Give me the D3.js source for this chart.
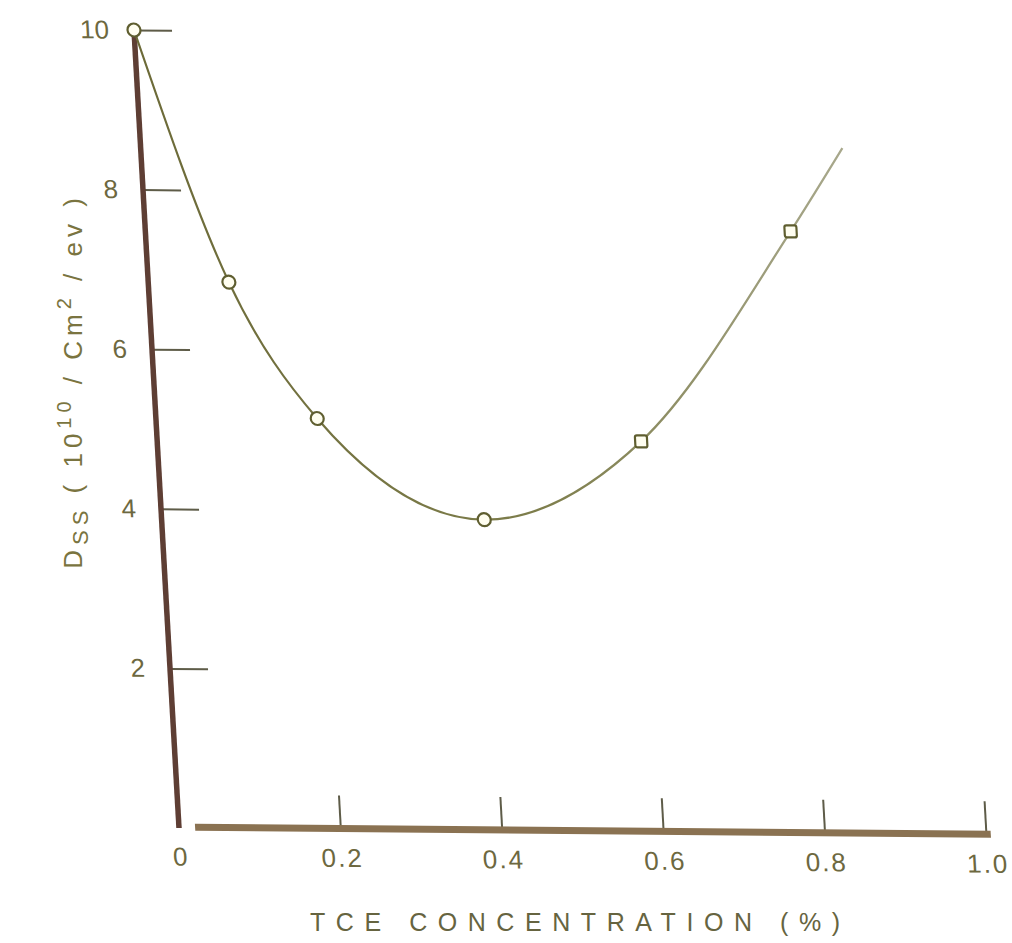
<!DOCTYPE html>
<html>
<head>
<meta charset="utf-8">
<script src="https://cdn.jsdelivr.net/npm/d3@7/dist/d3.min.js"></script>
<style>
  html, body { margin: 0; padding: 0; background: #ffffff; }
  svg { display: block; }
</style>
</head>
<body>
<script>
// Surface state density vs. TCE concentration
const concentration = [0, 0.1, 0.2, 0.4, 0.6, 0.8];
const dss = [10, 6.85, 5.15, 3.9, 4.9, 7.55];
const markerShape = ["circle", "circle", "circle", "circle", "square", "square"];
// smooth fit through the measurements, running a little past the last one
const fitConc = [0, 0.1, 0.2, 0.4, 0.6, 0.8, 0.87];
const fitDss = [10, 6.85, 5.15, 3.9, 4.9, 7.55, 8.6];
const xTicks = [0, 0.2, 0.4, 0.6, 0.8, 1.0];
const yTicks = [2, 4, 6, 8, 10];

const W = 1012, H = 943;
const svg = d3.select("body").append("svg").attr("width", W).attr("height", H);

const x = d3.scaleLinear().domain([0, 1]).range([0, 807]);
const y = d3.scaleLinear().domain([0, 10]).range([0, -798]);

// the printed frame is slightly sheared: vertical axis leans left, baseline drops to the right
const plot = svg.append("g").attr("transform", "matrix(1,0.009,0.0564,1,179,828)");

const grad = svg.append("defs").append("linearGradient")
  .attr("id", "fitStroke").attr("gradientUnits", "userSpaceOnUse")
  .attr("x1", x(0)).attr("x2", x(0.87)).attr("y1", 0).attr("y2", 0);
grad.append("stop").attr("offset", "0%").attr("stop-color", "#6c6a38");
grad.append("stop").attr("offset", "55%").attr("stop-color", "#7e7e4c");
grad.append("stop").attr("offset", "100%").attr("stop-color", "#a8a88c");

const labelColor = "#6d6840";
const tickColor = "#5e5c48";
const font = "'Liberation Sans', Arial, sans-serif";

// x axis
const xAxis = d3.axisBottom(x).tickValues(xTicks).tickSizeInner(-34).tickSizeOuter(0).tickPadding(19)
  .tickFormat(d => d === 0 ? "0" : d3.format(".1f")(d));
const gx = plot.append("g").call(xAxis);
gx.select(".domain").remove();
gx.selectAll(".tick line").attr("stroke", tickColor).attr("stroke-width", 2)
  .attr("opacity", d => d === 0 ? 0 : 1);
gx.selectAll(".tick text").attr("fill", labelColor)
  .style("font-family", font).style("font-size", "26px")
  .style("letter-spacing", "2px");

// y axis
const yAxis = d3.axisLeft(y).tickValues(yTicks).tickSizeInner(-38).tickSizeOuter(0).tickPadding(25)
  .tickFormat(d3.format("d"));
const gy = plot.append("g").call(yAxis);
gy.select(".domain").remove();
gy.selectAll(".tick line").attr("stroke", tickColor).attr("stroke-width", 2);
gy.selectAll(".tick text").attr("fill", labelColor)
  .style("font-family", font).style("font-size", "26px");

// heavy axis strokes
plot.append("line")
  .attr("x1", x(0.02)).attr("x2", x(1.006)).attr("y1", y(0) - 1).attr("y2", y(0) - 1)
  .attr("stroke", "#8a7252").attr("stroke-width", 7);
plot.append("line")
  .attr("x1", x(0)).attr("x2", x(0)).attr("y1", y(0)).attr("y2", y(9.95))
  .attr("stroke", "#5e3e34").attr("stroke-width", 5.5);

// fitted curve
const line = d3.line().curve(d3.curveMonotoneX).x(d => x(d[0])).y(d => y(d[1]));
plot.append("path")
  .datum(fitConc.map((c, i) => [c, fitDss[i]]))
  .attr("d", line)
  .attr("fill", "none").attr("stroke", "url(#fitStroke)").attr("stroke-width", 2.2);

// measured points
const pts = concentration.map((c, i) => ({ c, v: dss[i], s: markerShape[i] }));
plot.selectAll("circle.pt").data(pts.filter(p => p.s === "circle")).join("circle")
  .attr("class", "pt")
  .attr("cx", d => x(d.c)).attr("cy", d => y(d.v)).attr("r", 6.5)
  .attr("fill", "#fffef0").attr("stroke", "#5f5e30").attr("stroke-width", 2.2);
plot.selectAll("rect.pt").data(pts.filter(p => p.s === "square")).join("rect")
  .attr("class", "pt")
  .attr("x", d => x(d.c) - 6).attr("y", d => y(d.v) - 6).attr("width", 12).attr("height", 12)
  .attr("rx", 2)
  .attr("fill", "#fffef0").attr("stroke", "#5f5e30").attr("stroke-width", 2.2);

// axis titles
svg.append("text")
  .attr("x", 310).attr("y", 931)
  .attr("textLength", 530).attr("lengthAdjust", "spacing")
  .attr("fill", "#666440")
  .style("font-family", font).style("font-size", "25px")
  .text("TCE  CONCENTRATION (%)");

const yt = svg.append("text")
  .attr("transform", "translate(82,381) rotate(-90)")
  .attr("text-anchor", "middle")
  .attr("fill", "#7a7440")
  .style("font-family", font).style("font-size", "26px")
  .style("letter-spacing", "5px");
yt.append("tspan").text("D");
yt.append("tspan").attr("dy", 6).style("font-size", "22px").text("SS");
yt.append("tspan").attr("dy", -6).text(" ( 10");
yt.append("tspan").attr("dy", -11).style("font-size", "20px").text("10");
yt.append("tspan").attr("dy", 11).text(" / Cm");
yt.append("tspan").attr("dy", -11).style("font-size", "20px").text("2");
yt.append("tspan").attr("dy", 11).text(" / ev )");
</script>
</body>
</html>
